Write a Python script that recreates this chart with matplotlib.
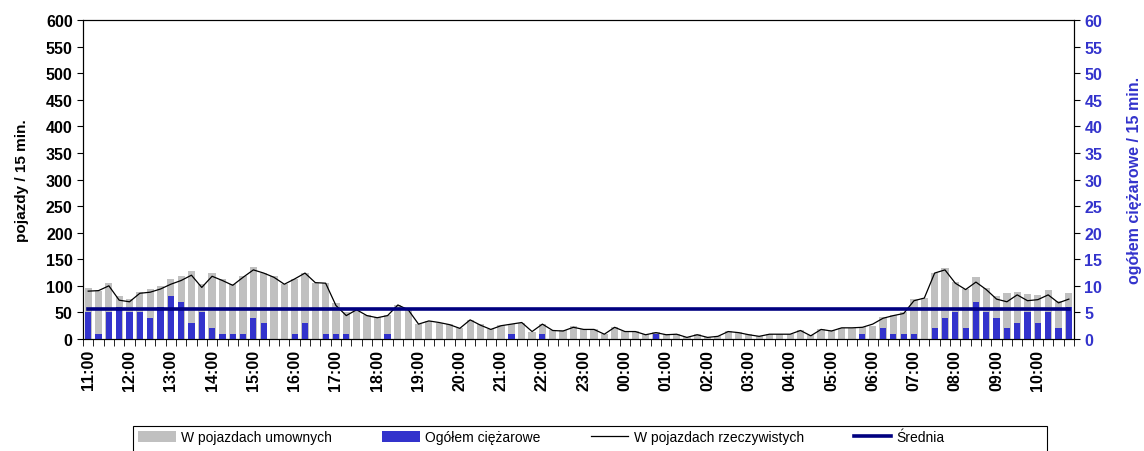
import matplotlib
matplotlib.use("Agg")
import matplotlib.pyplot as plt
from matplotlib.patches import Patch, Rectangle
from matplotlib.lines import Line2D
import numpy as np

plt.rcParams['font.family'] = ['Liberation Sans', 'DejaVu Sans']

# 96 quarter-hours from 11:00 to 10:45
hours = ["11:00", "12:00", "13:00", "14:00", "15:00", "16:00", "17:00", "18:00",
         "19:00", "20:00", "21:00", "22:00", "23:00", "00:00", "01:00", "02:00",
         "03:00", "04:00", "05:00", "06:00", "07:00", "08:00", "09:00", "10:00"]

# W pojazdach umownych (left axis)
umowne = [96, 90, 105, 80, 76, 89, 94, 100, 113, 119, 128, 104,
          125, 113, 103, 119, 135, 125, 118, 103, 113, 125, 106, 105,
          68, 50, 56, 45, 42, 45, 64, 56, 28, 34, 31, 28,
          20, 36, 28, 19, 26, 29, 31, 14, 29, 16, 16, 25,
          19, 19, 10, 22, 15, 15, 9, 13, 9, 10, 4, 9,
          4, 6, 15, 13, 9, 6, 10, 10, 10, 17, 7, 18,
          16, 21, 21, 22, 25, 41, 46, 50, 76, 78, 125, 133,
          107, 94, 116, 95, 80, 86, 88, 84, 82, 92, 72, 86]

# W pojazdach rzeczywistych (left axis)
rzeczywiste = [90, 91, 100, 73, 70, 86, 88, 94, 103, 110, 120, 97,
               118, 110, 101, 116, 130, 124, 116, 103, 113, 124, 106, 105,
               63, 44, 55, 44, 40, 44, 64, 55, 28, 34, 31, 27,
               20, 36, 26, 18, 25, 28, 31, 14, 28, 16, 15, 22,
               18, 18, 9, 22, 14, 14, 8, 12, 8, 9, 3, 8,
               3, 5, 14, 12, 8, 5, 9, 9, 9, 16, 6, 18,
               15, 21, 21, 22, 28, 39, 44, 48, 72, 77, 124, 130,
               105, 93, 107, 93, 75, 70, 83, 72, 74, 83, 68, 75]

# Ogółem ciężarowe (right axis)
ciezarowe = [5, 1, 5, 6, 5, 5, 4, 6, 8, 7, 3, 5,
             2, 1, 1, 1, 4, 3, 0, 0, 1, 3, 0, 1,
             1, 1, 0, 0, 0, 1, 0, 0, 0, 0, 0, 0,
             0, 0, 0, 0, 0, 1, 0, 0, 1, 0, 0, 0,
             0, 0, 0, 0, 0, 0, 0, 1, 0, 0, 0, 0,
             0, 0, 0, 0, 0, 0, 0, 0, 0, 0, 0, 0,
             0, 0, 0, 1, 0, 2, 1, 1, 1, 0, 2, 4,
             5, 2, 7, 5, 4, 2, 3, 5, 3, 5, 2, 6]

srednia = 56

GRAY = '#C0C0C0'
BLUE = '#3333CC'
NAVY = '#000080'
TICK_FS = 11.5

x = np.arange(len(umowne))

fig = plt.figure(figsize=(11.44, 4.52), dpi=100)
ax = fig.add_axes([0.0726, 0.2478, 0.8662, 0.7057])

ax.bar(x, umowne, width=0.7, color=GRAY, zorder=1)
ax.set_xlim(-0.5, len(x) - 0.5)
ax.set_ylim(0, 600)
ax.set_yticks(np.arange(0, 601, 50))
ax.tick_params(axis='y', labelsize=TICK_FS, length=4, direction='out')
for t in ax.get_yticklabels():
    t.set_fontweight('bold')
ax.set_ylabel('pojazdy / 15 min.', fontsize=11, fontweight='bold', labelpad=12)

# x axis: tick marks at every quarter boundary, labels at full hours
ax.set_xticks(np.arange(0, len(x), 4))
ax.set_xticklabels(hours, rotation=90, fontsize=TICK_FS, fontweight='bold')
ax.tick_params(axis='x', which='major', length=0, pad=7)
ax.set_xticks(np.arange(-0.5, len(x), 1), minor=True)
ax.tick_params(axis='x', which='minor', length=5, direction='out')

# right axis: trucks
ax2 = ax.twinx()
ax2.bar(x, ciezarowe, width=0.6, color=BLUE, zorder=2)
ax2.set_ylim(0, 60)
ax2.set_yticks(np.arange(0, 61, 5))
ax2.tick_params(axis='y', labelsize=TICK_FS, length=4, colors='black', labelcolor=BLUE)
for t in ax2.get_yticklabels():
    t.set_fontweight('bold')
ax2.set_ylabel('ogółem ciężarowe / 15 min.', fontsize=11.5, fontweight='bold',
               color=BLUE, rotation=90, labelpad=18)

# lines on the left scale, drawn above both bar layers
ax3 = ax.twinx()
ax3.set_ylim(0, 600)
ax3.axis('off')
ax3.plot(x, rzeczywiste, color='black', linewidth=0.9)
ax3.plot(x, [srednia] * len(x), color=NAVY, linewidth=2.6)

handles = [
    Patch(facecolor=GRAY, edgecolor='none'),
    Patch(facecolor=BLUE, edgecolor='none'),
    Line2D([], [], color='black', linewidth=0.9),
    Line2D([], [], color=NAVY, linewidth=2.6),
]
labels = ['W pojazdach umownych', 'Ogółem ciężarowe',
          'W pojazdach rzeczywistych', 'Średnia']
fig.legend(handles, labels, loc='upper left', ncol=4,
           bbox_to_anchor=(134 / 1144, 25 / 452),
           bbox_transform=fig.transFigure,
           fontsize=10, frameon=False, handlelength=2.7, handleheight=0.9,
           borderpad=0.3, borderaxespad=0, handletextpad=0.4,
           columnspacing=3.6)
# legend frame box (runs off the bottom edge like the original)
fig.patches.append(Rectangle((133 / 1144, -0.02), (1047 - 133) / 1144, 0.02 + 25 / 452,
                             transform=fig.transFigure, fill=False,
                             edgecolor='black', linewidth=0.8))

fig.savefig('out.png', dpi=100)
